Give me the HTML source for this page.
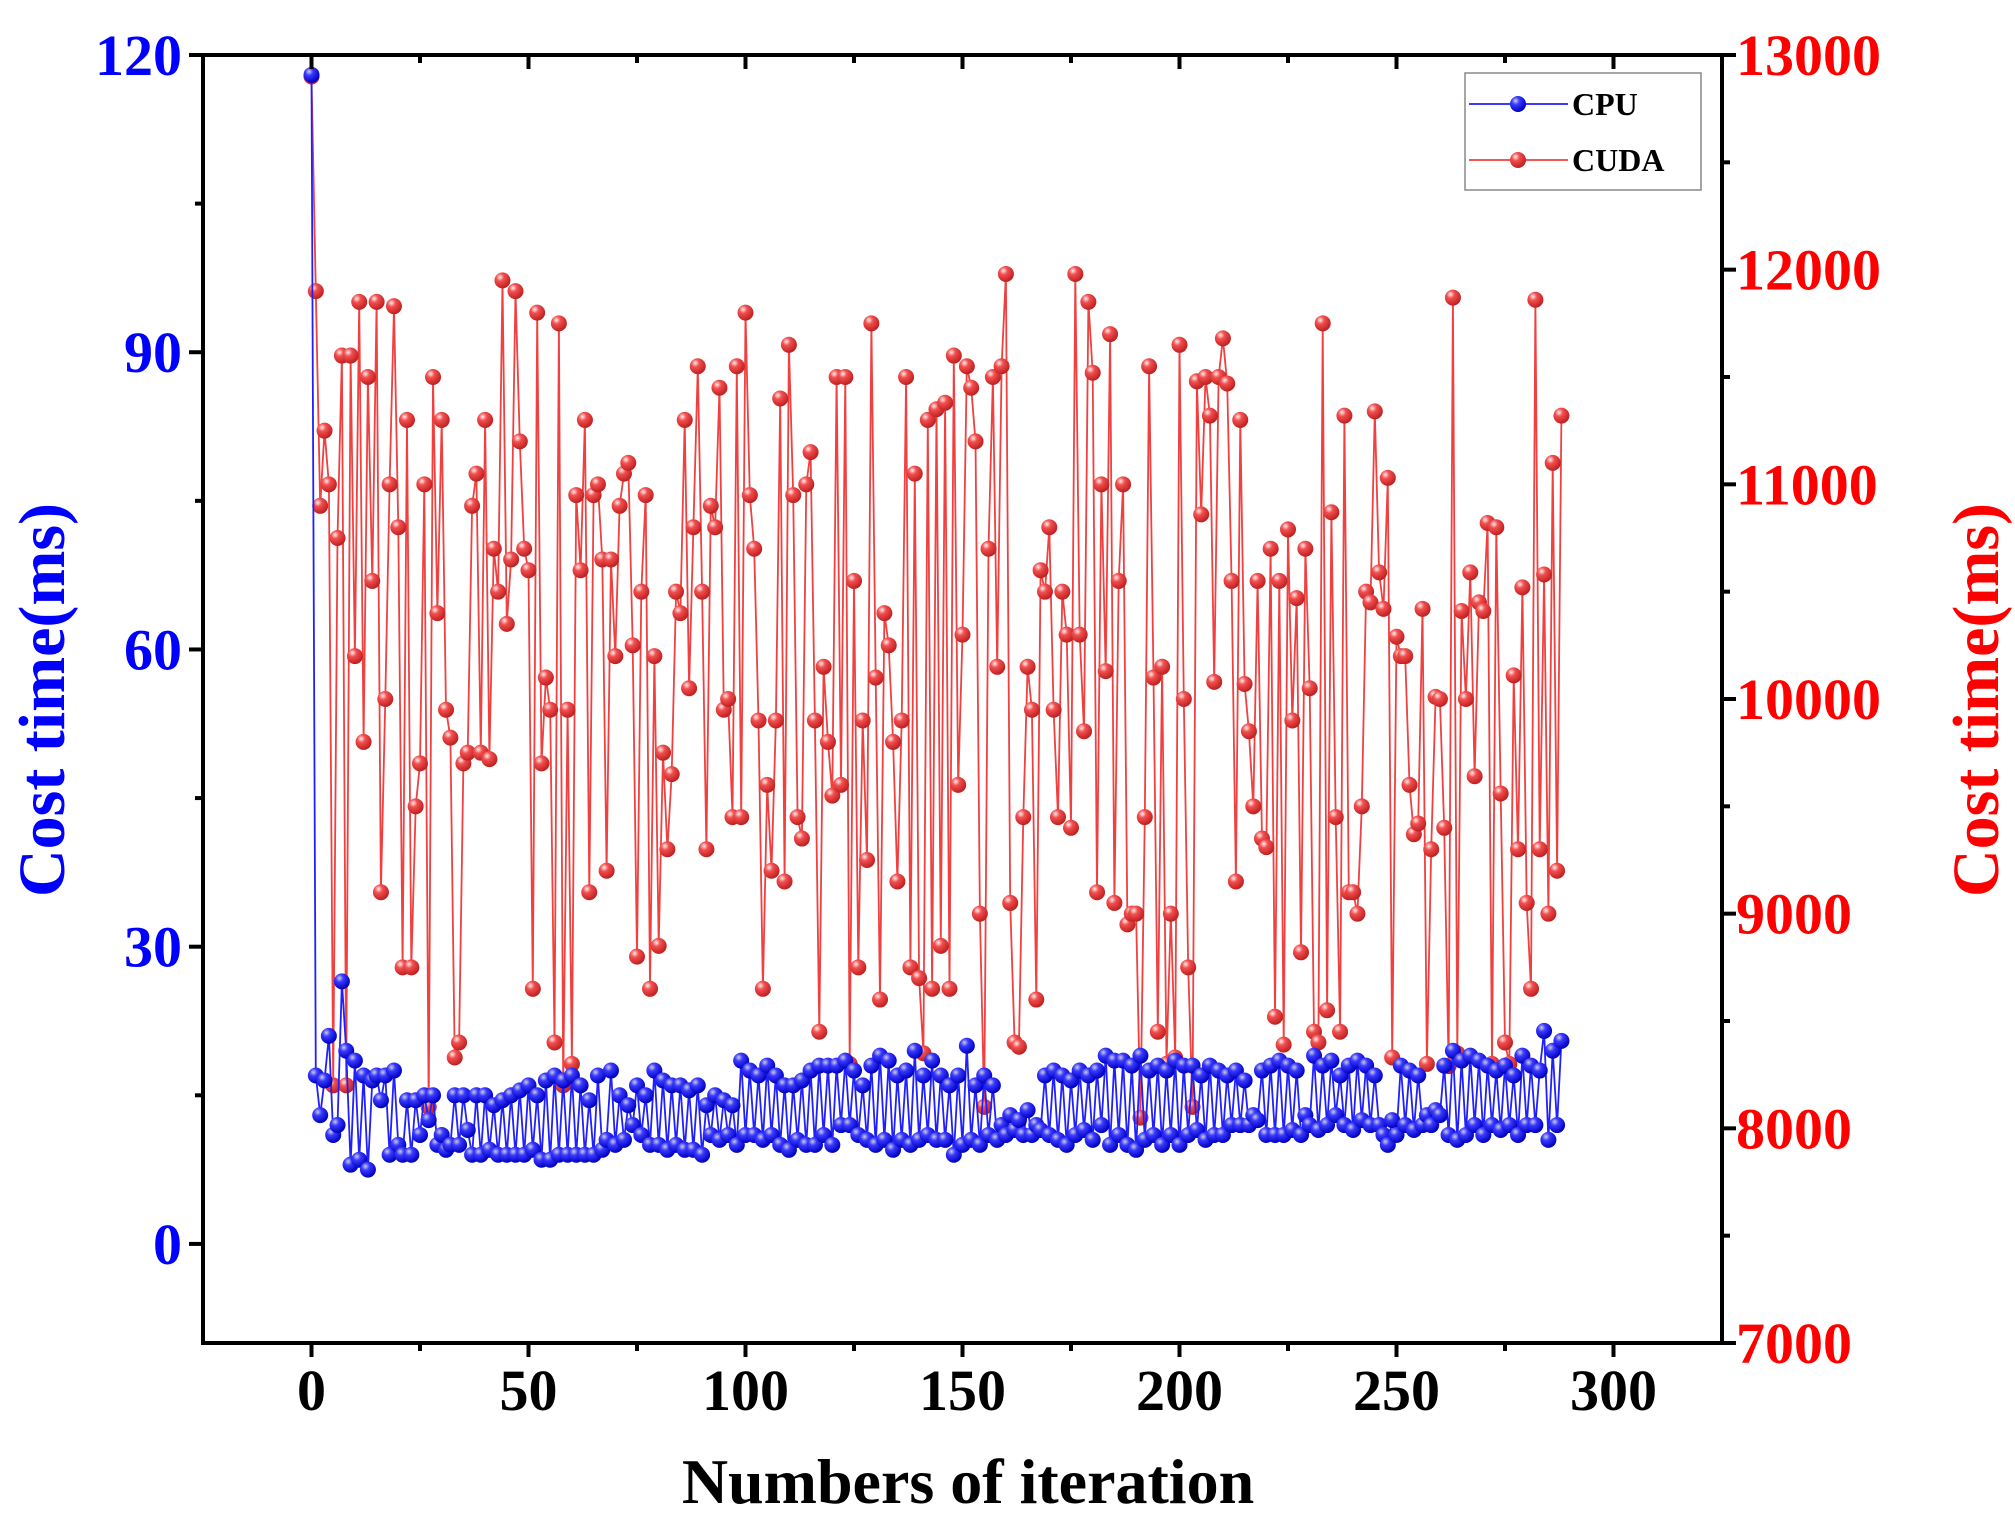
<!DOCTYPE html>
<html><head><meta charset="utf-8">
<style>
html,body{margin:0;padding:0;background:#fff;}
svg{display:block;}
text{font-family:"Liberation Serif",serif;font-weight:bold;}
</style></head>
<body>
<svg id="chart" width="2015" height="1531" viewBox="0 0 2015 1531" xmlns="http://www.w3.org/2000/svg">
<defs>
<radialGradient id="gb" cx="0.35" cy="0.3" r="0.7"><stop offset="0" stop-color="#ccd"/><stop offset="0.35" stop-color="#3a3aff"/><stop offset="1" stop-color="#0000c0"/></radialGradient>
<radialGradient id="gr" cx="0.35" cy="0.3" r="0.7"><stop offset="0" stop-color="#fee"/><stop offset="0.35" stop-color="#f25050"/><stop offset="1" stop-color="#c02020"/></radialGradient>
</defs>
<g id="plot"></g>
</svg>
<script>
const xTicks=[0,50,100,150,200,250,300];
const yLeftTicks=[0,30,60,90,120];
const yRightTicks=[7000,8000,9000,10000,11000,12000,13000];
const cpuValues=[118,17,13,16.5,21,11,12,26.5,19.5,8,
18.5,8.5,17,7.5,16.5,17,14.5,17,9,17.5,
10,9,14.5,9,14.5,11,15,12.5,15,10,
11,9.5,10,15,10,15,11.5,9,15,9,
15,9.5,14,9,14.5,9,15,9,15.5,9,
16,9.5,15,8.5,16.5,8.5,17,9,16.5,9,
17,9,16,9,14.5,9,17,9.5,10.5,17.5,
10,15,10.5,14,12,16,11,15,10,17.5,
10,16.5,9.5,16,10,16,9.5,15.5,9.5,16,
9,14,11,15,10.5,14.5,11,14,10,18.5,
11,17.5,11,17,10.5,18,11,17,10,16,
9.5,16,10.5,16.5,10,17.5,10,18,11,18,
10,18,12,18.5,12,17.5,11,16,10.5,18,
10,19,10.5,18.5,9.5,17,10.5,17.5,10,19.5,
10.5,17,11,18.5,10.5,17,10.5,16,9,17,
10,20,10.5,16,10,17,11,16,10.5,12,
11,13,11.5,12.5,11,13.5,11,12,11.5,17,
11,17.5,10.5,17,10,16.5,11,17.5,11.5,17,
10.5,17.5,12,19,10,18.5,11,18.5,10,18,
9.5,19,10.5,17.5,11,18,10,17.5,11,18.5,
10,18,11,18,11.5,17,10.5,18,11,17.5,
11,17,12,17.5,12,16.5,12,13,12.5,17.5,
11,18,11,18.5,11,18,11.5,17.5,11,13,
12,19,11.5,18,12,18.5,13,17,12,18,
11.5,18.5,12.5,18,12,17,12,11,10,12.5,
11,18,12,17.5,11.5,17,12,13,12,13.5,
13,18,11,19.5,10.5,18.5,11,19,12,18.5,
11,18,12,17.5,11.5,18,12,17,11,19,
12,18,12,17.5,21.5,10.5,19.5,12,20.5];
const cudaValues=[12900,11900,10900,11250,11000,8200,10750,11600,8200,11600,
10200,11850,9800,11500,10550,11850,9100,10000,11000,11830,
10800,8750,11300,8750,9500,9700,11000,8100,11500,10400,
11300,9950,9820,8330,8400,9700,9750,10900,11050,9750,
11300,9720,10700,10500,11950,10350,10650,11900,11200,10700,
10600,8650,11800,9700,10100,9950,8400,11750,8200,9950,
8300,10950,10600,11300,9100,10950,11000,10650,9200,10650,
10200,10900,11050,11100,10250,8800,10500,10950,8650,10200,
8850,9750,9300,9650,10500,10400,11300,10050,10800,11550,
10500,9300,10900,10800,11450,9950,10000,9450,11550,9450,
11800,10950,10700,9900,8650,9600,9200,9900,11400,9150,
11650,10950,9450,9350,11000,11150,9900,8450,10150,9800,
9550,11500,9600,11500,8300,10550,8750,9900,9250,11750,
10100,8600,10400,10250,9800,9150,9900,11500,8750,11050,
8700,8350,11300,8650,11350,8850,11380,8650,11600,9600,
10300,11550,11450,11200,9000,8100,10700,11500,10150,11550,
11980,9050,8400,8380,9450,10150,9950,8600,10600,10500,
10800,9950,9450,10500,10300,9400,11980,10300,9850,11850,
11520,9100,11000,10130,11700,9050,10550,11000,8950,9000,
9000,8050,9450,11550,10100,8450,10150,8300,9000,8330,
11650,10000,8750,8100,11480,10860,11500,11320,10080,11500,
11680,11470,10550,9150,11300,10070,9850,9500,10550,9350,
9310,10700,8520,10550,8390,10790,9900,10470,8820,10700,
10050,8450,8400,11750,8550,10870,9450,8450,11320,9100,
9100,9000,9500,10500,10450,11340,10590,10420,11030,8330,
10290,10200,10200,9600,9370,9420,10420,8300,9300,10010,
10000,9400,8290,11870,8350,10410,10000,10590,9640,10450,
10410,10820,8300,10800,9560,8400,8300,10110,9300,10520,
9050,8650,11860,9300,10580,9000,11100,9200,11320];
const W=2015,H=1531;
const L=203,R=1722,T=55,B=1343;
const xMin=-25,xMax=325,yLMin=-10,yLMax=120,yRMin=7000,yRMax=13000;
const sx=v=>L+(v-xMin)/(xMax-xMin)*(R-L);
const syL=v=>B-(v-yLMin)/(yLMax-yLMin)*(B-T);
const syR=v=>B-(v-yRMin)/(yRMax-yRMin)*(B-T);
const NS="http://www.w3.org/2000/svg";
const g=document.getElementById('plot');
function mk(tag,attrs,parent){const e=document.createElementNS(NS,tag);for(const k in attrs)e.setAttribute(k,attrs[k]);(parent||g).appendChild(e);return e;}
function txt(s,x,y,attrs,parent){const e=mk('text',Object.assign({x:x,y:y},attrs),parent);e.textContent=s;return e;}

function series(vals,sy,color,grad,name){
  const sg=mk('g',{});
  
  
  const pts=vals.map((v,i)=>sx(i).toFixed(1)+','+sy(v).toFixed(1)).join(' ');
  const pl=mk('polyline',{points:pts,fill:'none',stroke:color,'stroke-width':1.8},sg);
  
  
  vals.forEach((v,i)=>{
    const c=mk('circle',{cx:sx(i),cy:sy(v),r:8,fill:'url(#'+grad+')'},sg);
    
    
  });
}
series(cudaValues,syR,'#f04040','gr','cuda');
series(cpuValues,syL,'#2020ff','gb','cpu');

const fr=mk('rect',{x:L,y:T,width:R-L,height:B-T,fill:'none',stroke:'#000','stroke-width':4});



xTicks.forEach((v,i)=>{
  const x=sx(v);
  mk('line',{x1:x,y1:B,x2:x,y2:B+14,stroke:'#000','stroke-width':4});
  mk('line',{x1:x,y1:T,x2:x,y2:T+14,stroke:'#000','stroke-width':4});
  const xm=sx(v+25);
  if(v+25<xMax){mk('line',{x1:xm,y1:B,x2:xm,y2:B+8,stroke:'#000','stroke-width':4});mk('line',{x1:xm,y1:T,x2:xm,y2:T+8,stroke:'#000','stroke-width':4});}
  const t=txt(String(v),x,1410,{'font-size':58,'text-anchor':'middle',fill:'#000'});
  
  
});
yLeftTicks.forEach(v=>{
  const y=syL(v);
  mk('line',{x1:L-14,y1:y,x2:L,y2:y,stroke:'#000','stroke-width':4});
  if(v+15<=yLMax) mk('line',{x1:L-8,y1:syL(v+15),x2:L,y2:syL(v+15),stroke:'#000','stroke-width':4});
  const t=txt(String(v),182,y+20,{'font-size':58,'text-anchor':'end',fill:'#0000ff'});
  
  
});
yRightTicks.forEach(v=>{
  const y=syR(v);
  mk('line',{x1:R,y1:y,x2:R+14,y2:y,stroke:'#000','stroke-width':4});
  if(v+500<yRMax) mk('line',{x1:R,y1:syR(v+500),x2:R+8,y2:syR(v+500),stroke:'#000','stroke-width':4});
  const t=txt(String(v),1736,y+20,{'font-size':58,'text-anchor':'start',fill:'#ff0000'});
  
  
});
let t;
t=txt('Cost time(ms)',0,0,{'font-size':66,'text-anchor':'middle',fill:'#0000ff',transform:'translate(64,700) rotate(-90)'});


t=txt('Cost time(ms)',0,0,{'font-size':66,'text-anchor':'middle',fill:'#ff0000',transform:'translate(1998,700) rotate(-90)'});


t=txt('Numbers of iteration',968,1503,{'font-size':64,'text-anchor':'middle',fill:'#000'});



const lg=mk('g',{});


mk('rect',{x:1465,y:73,width:236,height:117,fill:'#fff',stroke:'#888','stroke-width':1.5},lg);
const entries=[['CPU','#2020ff','gb',104],['CUDA','#f04040','gr',160]];
entries.forEach(e=>{
  const eg=mk('g',{},lg);
  
  
  mk('line',{x1:1469,y1:e[3],x2:1568,y2:e[3],stroke:e[1],'stroke-width':1.8},eg);
  mk('circle',{cx:1518,cy:e[3],r:8,fill:'url(#'+e[2]+')'},eg);
  txt(e[0],1572,e[3]+11,{'font-size':32,fill:'#000'},eg);
});
</script>
</body></html>
